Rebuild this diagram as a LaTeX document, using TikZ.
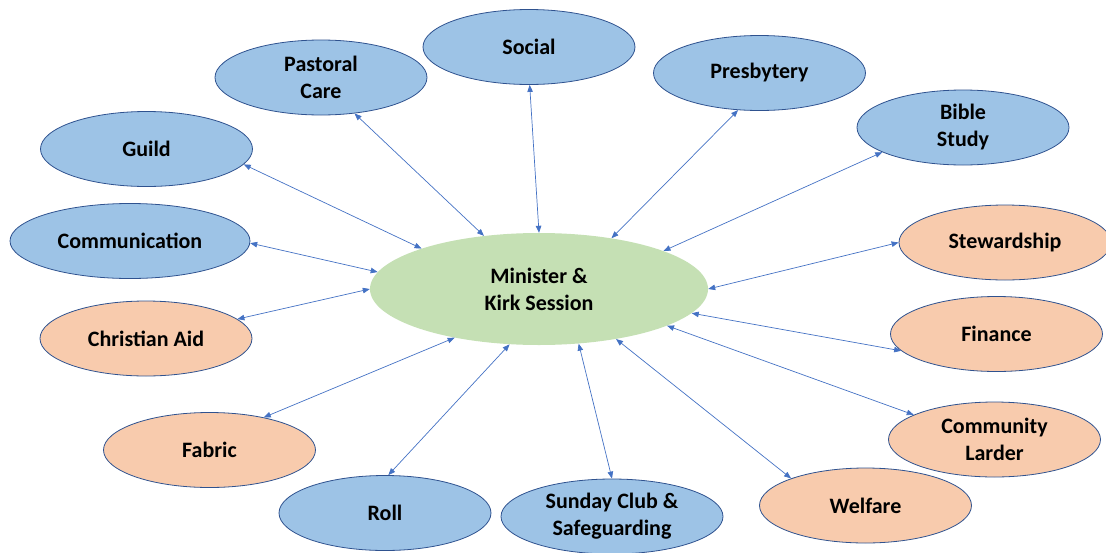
\documentclass[tikz,border=0pt]{standalone}
\usepackage{fontspec}
\setmainfont{Carlito}
\usetikzlibrary{shapes.geometric,arrows.meta}
\definecolor{bluefill}{HTML}{9DC3E6}
\definecolor{orangefill}{HTML}{F8CBAD}
\definecolor{greenfill}{HTML}{C5E0B4}
\definecolor{edgeline}{HTML}{2F528F}
\definecolor{arrowblue}{HTML}{4472C4}
\tikzset{
  oval/.style={ellipse, inner sep=0pt, minimum width=212pt, minimum height=75pt,
    draw=edgeline, line width=0.8pt, align=center,
    font=\fontsize{22}{27}\selectfont\bfseries},
  bluenode/.style={oval, fill=bluefill},
  orangenode/.style={oval, fill=orangefill},
  centernode/.style={ellipse, inner sep=0pt, minimum width=338pt, minimum height=112pt,
    fill=greenfill, align=center, font=\fontsize{22}{27}\selectfont\bfseries},
  link/.style={draw=arrowblue, line width=0.7pt,
    {Triangle[length=7pt,width=5.5pt]}-{Triangle[length=7pt,width=5.5pt]}}
}
\begin{document}
\begin{tikzpicture}[x=1pt,y=-1pt]
\useasboundingbox (0,0) rectangle (1106,552);
\node[centernode] (m) at (539,289) {Minister \&\\Kirk Session};
\node[bluenode] (social) at (529,47) {Social};
\node[bluenode] (pastoral) at (321,77.5) {Pastoral\\Care};
\node[bluenode] (presb) at (759.5,73) {Presbytery};
\node[bluenode] (bible) at (963,127.5) {Bible\\Study};
\node[bluenode] (guild) at (146.5,149) {Guild};
\node[bluenode, minimum width=240pt] (comm) at (130,241) {Communication};
\node[orangenode] (caid) at (146,338.5) {Christian Aid};
\node[orangenode] (stew) at (1005,242.5) {Stewardship};
\node[orangenode] (fin) at (996.5,334) {Finance};
\node[orangenode] (larder) at (994.5,439.5) {Community\\Larder};
\node[orangenode] (fabric) at (209.5,450) {Fabric};
\node[bluenode] (roll) at (385,513) {Roll};
\node[bluenode, minimum width=222pt] (sunday) at (612,516.5) {Sunday Club \&\\Safeguarding};
\node[orangenode] (welfare) at (865.5,505.5) {Welfare};

\draw[link] (guild.-9.5) -- (m.161);
\draw[link] (pastoral.-47.8) -- (m.136);
\draw[link] (social.-89) -- (m.90);
\draw[link] (presb.-120) -- (m.35);
\draw[link] (bible.-163.8) -- (m.17);
\draw[link] (comm.-1) -- (m.174);
\draw[link] (caid.12.3) -- (m.180);
\draw[link] (stew.180) -- (m.0.5);
\draw[link] (fin.190.4) -- (m.-9.3);
\draw[link] (larder.163.3) -- (m.-16.4);
\draw[link] (welfare.160.7) -- (m.-33.5);
\draw[link] (sunday.90) -- (m.-54.3);
\draw[link] (roll.85.7) -- (m.-118.5);
\draw[link] (fabric.31.3) -- (m.-150.7);
\end{tikzpicture}
\end{document}
